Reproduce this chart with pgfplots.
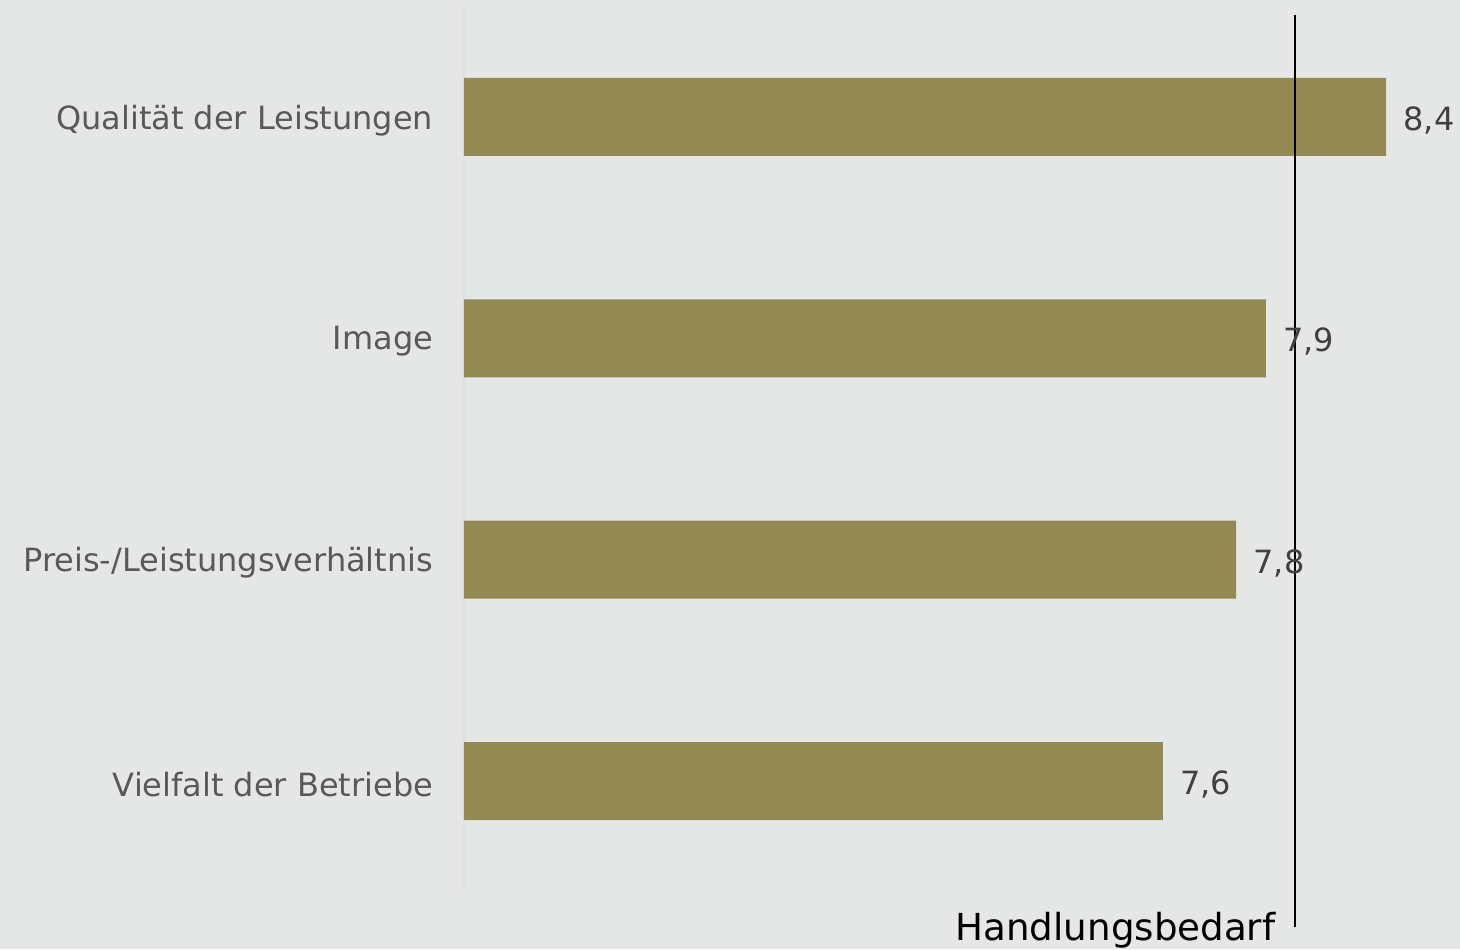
\documentclass[border=0pt]{standalone}
\usepackage{pgfplots}
\pgfplotsset{compat=1.18}
\usepackage{pgfplotstable}
\usepackage{fontspec}
\setmainfont{DejaVu Sans}
\definecolor{bg}{HTML}{E5E7E6}
\definecolor{bar}{HTML}{938A53}
\definecolor{lab}{HTML}{595959}
\definecolor{val}{HTML}{404040}
\pgfplotstableread{
y x lab
0 7.577 7,6
1 7.847 7,8
2 7.957 7,9
3 8.400 8,4
}\data
\begin{document}
\begin{tikzpicture}
\fill[bg] (-232pt,-28.67pt) rectangle (498pt,445.83pt);
\begin{axis}[
  at={(0,0)}, anchor=south west,
  scale only axis, width=498pt, height=442.67pt,
  xmin=5, xmax=8.6726, ymin=-0.5, ymax=3.5,
  axis x line=none,
  axis y line*=left,
  y axis line style={draw=black!12, line width=1pt, -},
  ytick={0,1,2,3},
  yticklabels={Vielfalt der Betriebe,Preis-/Leistungsverhältnis,Image,Qualität der Leistungen},
  major tick length=0pt,
  yticklabel style={font=\fontsize{16}{19}\selectfont, text=lab, inner sep=0pt, xshift=-15.2pt, yshift=-1.6pt},
  clip=false,
]
\addplot[xbar, bar width=39pt, fill=bar, draw=none, bar shift=0pt,
  point meta=explicit symbolic,
  nodes near coords,
  every node near coord/.append style={font=\fontsize{16}{19}\selectfont, text=val, anchor=west, inner sep=0pt, xshift=8.5pt, yshift=-1.8pt}]
  table[x=x, y=y, meta=lab] {\data};
\addplot[black, line width=1pt] coordinates {(8.064,-0.66) (8.064,3.46)};
\node[anchor=base, font=\fontsize{18.6}{22}\selectfont, text=black, inner sep=0pt, yshift=-24.4pt] at (axis cs:7.402,-0.5) {Handlungsbedarf};
\end{axis}
\pgfresetboundingbox
\path[use as bounding box] (-232pt,-28.67pt) rectangle (498pt,445.83pt);
\end{tikzpicture}
\end{document}
